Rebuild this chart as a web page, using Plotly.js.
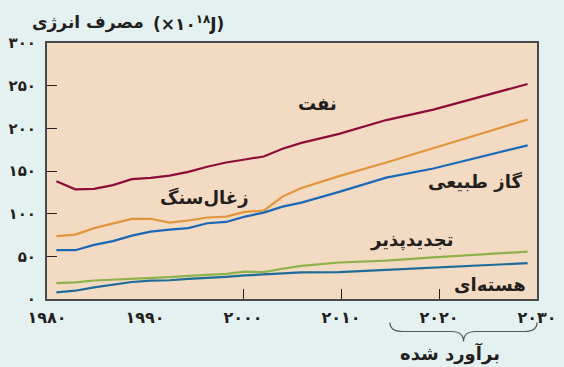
<!DOCTYPE html>
<html>
<head>
<meta charset="utf-8">
<script src="https://cdn.plot.ly/plotly-3.0.1.min.js"></script>
<style>
  html, body { margin: 0; padding: 0; background: #e3f2f1; }
  #chart { width: 564px; height: 367px; }
</style>
</head>
<body>
<div id="chart"></div>
<script>
// World energy consumption by source, 10^18 J (history and projection)
const years = [1980, 1982, 1984, 1986, 1988, 1990, 1992, 1994, 1996, 1998, 2000, 2002, 2004, 2006, 2010, 2015, 2020, 2025, 2030];

const oil        = [138, 128.5, 129, 133.5, 140.5, 142, 144.5, 149, 155, 160, 163.5, 167, 176, 183, 193.5, 209.7, 222, 237, 252];
const coal       = [73.6, 75.5, 83, 88, 93.8, 94, 89.5, 92, 95.5, 96.5, 102, 103.5, 120, 130, 144, 160, 176.5, 193.3, 210.3];
const gas        = [57.2, 57.2, 63.4, 67.8, 74.3, 79, 81.3, 83, 88.8, 90.3, 96.5, 101.2, 108.2, 112.9, 125.5, 142.2, 152.9, 166.6, 180];
const renewables = [18.7, 19.4, 21.7, 22.5, 23.7, 24.5, 25.7, 27, 28.5, 29.5, 32, 31.5, 35.5, 38.9, 42.8, 45, 48.7, 52.5, 55.6];
const nuclear    = [7.7, 9.7, 13.6, 16.7, 19.9, 21.5, 22, 23.5, 24.5, 26, 27.6, 28.4, 30, 31.1, 31.5, 34.2, 36.8, 39.4, 42];

// Axis labels in Persian digits
const xTickVals = [1980, 1990, 2000, 2010, 2020, 2030];
const xTickText = ['۱۹۸۰', '۱۹۹۰', '۲۰۰۰', '۲۰۱۰', '۲۰۲۰', '۲۰۳۰'];
const yTickVals = [0, 50, 100, 150, 200, 250, 300];
const yTickText = ['۰', '۵۰', '۱۰۰', '۱۵۰', '۲۰۰', '۲۵۰', '۳۰۰'];

const FONT = 'DejaVu Sans, Noto Sans, sans-serif';
const INK = '#231f20';

function series(y, color) {
  return {
    x: years, y: y, type: 'scatter', mode: 'lines',
    xaxis: 'x2', yaxis: 'y',
    line: { color: color, width: 2.2 },
    hoverinfo: 'skip', showlegend: false
  };
}

const data = [
  series(oil, '#8c0d3c'),
  series(coal, '#e0963c'),
  series(gas, '#1a68b8'),
  series(renewables, '#8db24c'),
  series(nuclear, '#1d6c99')
];

function bold(list) { return list.map(t => '<b>' + t + '</b>'); }

function label(text, x, y, size) {
  return {
    text: '<b>' + text + '</b>', x: x, y: y, xref: 'x', yref: 'y',
    showarrow: false, xanchor: 'center', yanchor: 'middle',
    font: { family: FONT, size: size || 18, color: INK }
  };
}

const layout = {
  width: 564, height: 367,
  margin: { l: 47, r: 27, t: 43, b: 68 },
  paper_bgcolor: '#e3f2f1',
  plot_bgcolor: '#f3dac2',
  showlegend: false,
  xaxis: {
    range: [1980, 2030], fixedrange: true,
    tickmode: 'array', tickvals: xTickVals, ticktext: bold(xTickText),
    ticks: '', showgrid: false, zeroline: false,
    showline: true, linecolor: '#4a4a4a', linewidth: 2, mirror: true,
    tickfont: { family: FONT, size: 16, color: INK },
    ticklabelstandoff: 3,
    minor: { tickmode: 'array', tickvals: [2000, 2010, 2020], ticks: 'inside', ticklen: 10, tickwidth: 1, tickcolor: INK, showgrid: false }
  },
  xaxis2: {
    range: [1979, 2031], overlaying: 'x', anchor: 'y',
    visible: false, fixedrange: true
  },
  yaxis: {
    range: [0, 300], fixedrange: true,
    tickmode: 'array', tickvals: yTickVals, ticktext: bold(yTickText),
    ticks: 'inside', ticklen: 10, tickwidth: 1, tickcolor: INK,
    showgrid: false, zeroline: false,
    showline: true, linecolor: '#4a4a4a', linewidth: 2, mirror: true,
    tickfont: { family: FONT, size: 15, color: INK },
    ticklabelstandoff: 6
  },
  annotations: [
    label('نفت', 2007.6, 229),
    label('گاز طبیعی', 2023.7, 138),
    label('زغال‌سنگ', 1996.1, 119.5),
    label('تجدیدپذیر', 2017.2, 69.3),
    label('هسته‌ای', 2025.2, 16.7),
    {
      text: '<b>مصرف انرژی</b>', xref: 'paper', yref: 'paper', x: 0.202, y: 1.08,
      showarrow: false, xanchor: 'right', yanchor: 'middle',
      font: { family: FONT, size: 17, color: INK }
    },
    {
      text: '<b>(×۱۰<sup>۱۸</sup>J)</b>', xref: 'paper', yref: 'paper', x: 0.212, y: 1.08,
      showarrow: false, xanchor: 'left', yanchor: 'middle',
      font: { family: FONT, size: 17, color: INK }
    },
    {
      text: '<b>برآورد شده</b>', xref: 'paper', yref: 'paper', x: 0.822, y: -0.213,
      showarrow: false, xanchor: 'center', yanchor: 'middle',
      font: { family: FONT, size: 18, color: INK }
    }
  ],
  shapes: [
    {
      // curly brace under the projected span
      type: 'path', xref: 'paper', yref: 'paper',
      path: 'M 0.700,-0.092 Q 0.700,-0.127 0.725,-0.127 L 0.825,-0.127 Q 0.850,-0.127 0.850,-0.166 ' +
            'Q 0.850,-0.127 0.875,-0.127 L 0.975,-0.127 Q 1.000,-0.127 1.000,-0.092',
      line: { color: '#555', width: 1.2 }
    }
  ]
};

Plotly.newPlot('chart', data, layout, { staticPlot: true, displayModeBar: false });
</script>
</body>
</html>
